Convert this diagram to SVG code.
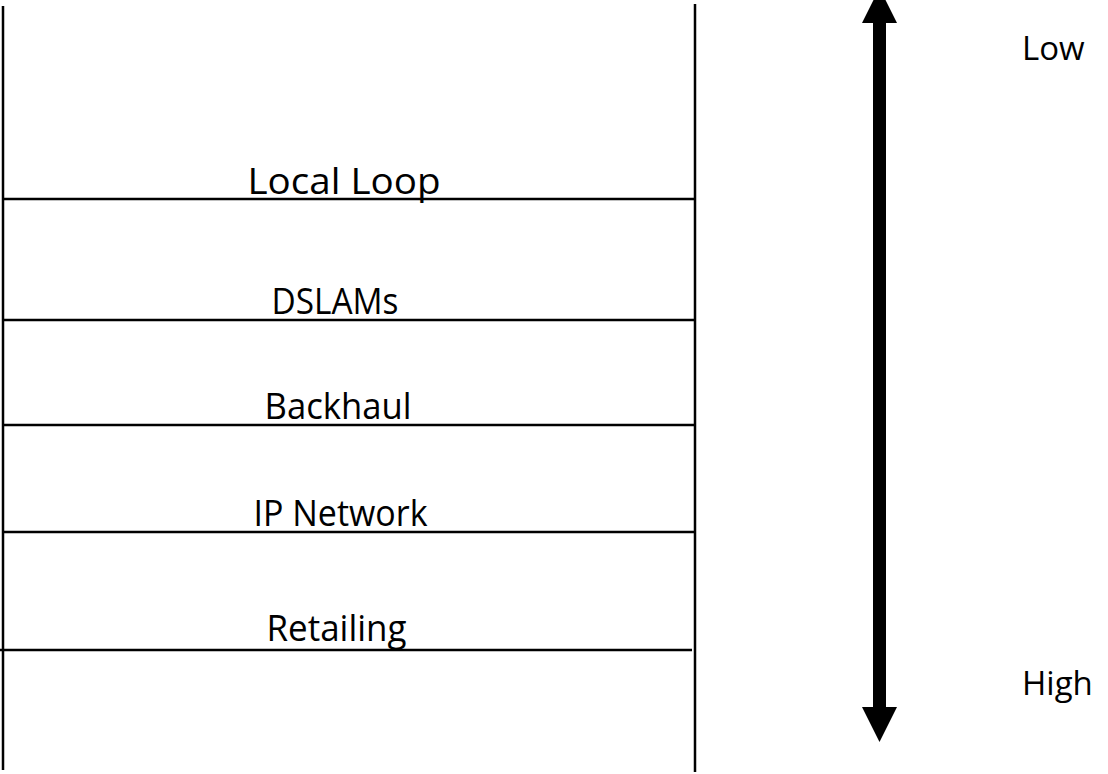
<svg xmlns="http://www.w3.org/2000/svg" width="1108" height="774" viewBox="0 0 1108 774">
<style>
.ln{stroke:#000;stroke-width:2.5;fill:none}
.t{font-family:"Open Sans","Liberation Sans",sans-serif;font-size:37px;fill:#000;text-anchor:middle}
.s{font-family:"Open Sans","Liberation Sans",sans-serif;font-size:33px;fill:#000}
</style>
<rect width="1108" height="774" fill="#fff"/>
<g id="connectors">
<line class="ln" x1="3" y1="6" x2="3" y2="770"/>
<line class="ln" x1="695" y1="4" x2="695" y2="772"/>
<line class="ln" x1="4" y1="199" x2="695" y2="199"/>
<line class="ln" x1="4" y1="320" x2="695" y2="320"/>
<line class="ln" x1="4" y1="425" x2="695" y2="425"/>
<line class="ln" x1="4" y1="532" x2="695" y2="532"/>
<line class="ln" x1="0" y1="650" x2="692" y2="650"/>
<g id="arrow">
<rect x="873" y="22" width="13" height="686" fill="#000"/>
<polygon points="879.5,-12 897,23 862,23" fill="#000"/>
<polygon points="862,707 897,707 879.5,742" fill="#000"/>
</g>
</g>
<g id="local-loop"><text class="t" x="344" y="194" textLength="193" lengthAdjust="spacingAndGlyphs">Local Loop</text></g>
<g id="dslams"><text class="t" x="335" y="314" textLength="127" lengthAdjust="spacingAndGlyphs">DSLAMs</text></g>
<g id="backhaul"><text class="t" x="338" y="419" textLength="147" lengthAdjust="spacingAndGlyphs">Backhaul</text></g>
<g id="ip-network"><text class="t" x="340.5" y="526" textLength="174" lengthAdjust="spacingAndGlyphs">IP Network</text></g>
<g id="retailing"><text class="t" x="336.5" y="641" textLength="140" lengthAdjust="spacingAndGlyphs">Retailing</text></g>
<g id="low"><text class="s" x="1022" y="60">Low</text></g>
<g id="high"><text class="s" x="1022" y="695">High</text></g>
</svg>
